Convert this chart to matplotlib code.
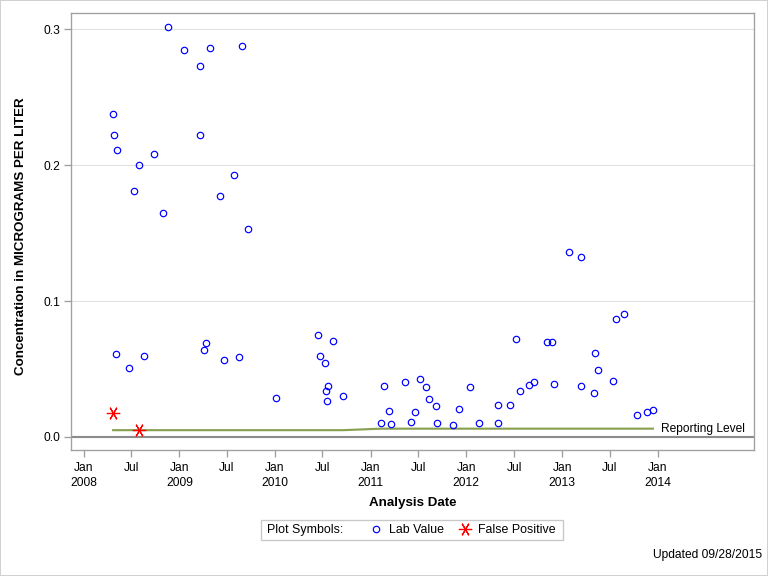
import matplotlib
matplotlib.use('Agg')
import matplotlib.pyplot as plt
from matplotlib.patches import Rectangle
import pandas as pd

plt.rcParams['font.family'] = ['Liberation Sans', 'DejaVu Sans']

# lab values (analysis date, concentration ug/L)
lab_dates = ['2008-04-23', '2008-04-27', '2008-05-06', '2008-05-03', '2008-06-24',
             '2008-07-11', '2008-08-01', '2008-08-18', '2008-09-25', '2008-10-30',
             '2008-11-20', '2009-01-20', '2009-03-20', '2009-03-22', '2009-04-06',
             '2009-04-14', '2009-04-29', '2009-06-06', '2009-06-21', '2009-07-30',
             '2009-08-18', '2009-08-26', '2009-09-21', '2010-01-03', '2010-06-15',
             '2010-06-23', '2010-07-12', '2010-07-16', '2010-07-20', '2010-07-23',
             '2010-08-11', '2010-09-19', '2011-02-08', '2011-02-22', '2011-03-13',
             '2011-03-21', '2011-05-13', '2011-06-05', '2011-06-20', '2011-07-09',
             '2011-07-30', '2011-08-13', '2011-09-06', '2011-09-12', '2011-11-12',
             '2011-12-05', '2012-01-16', '2012-02-19', '2012-05-02', '2012-05-02',
             '2012-06-17', '2012-07-09', '2012-07-22', '2012-08-28', '2012-09-16',
             '2012-11-05', '2012-11-24', '2012-12-01', '2013-01-25', '2013-03-15',
             '2013-03-15', '2013-05-04', '2013-05-08', '2013-05-19', '2013-07-13',
             '2013-07-27', '2013-08-24', '2013-10-15', '2013-11-22', '2013-12-13']
lab_values = [0.238, 0.222, 0.2115, 0.061, 0.0505,
              0.181, 0.200, 0.0593, 0.208, 0.1645,
              0.302, 0.285, 0.273, 0.222, 0.0638,
              0.069, 0.286, 0.177, 0.0564, 0.193,
              0.0586, 0.288, 0.1527, 0.0285, 0.0748,
              0.0593, 0.0542, 0.0336, 0.0263, 0.0373,
              0.0704, 0.030, 0.0101, 0.0374, 0.0189,
              0.0093, 0.0402, 0.0108, 0.0182, 0.0424,
              0.0365, 0.0277, 0.0228, 0.0101, 0.0086,
              0.0204, 0.0365, 0.0101, 0.0233, 0.0101,
              0.0233, 0.0718, 0.0336, 0.038, 0.0402,
              0.0696, 0.0696, 0.0388, 0.1358, 0.1321,
              0.0373, 0.0321, 0.0615, 0.049, 0.041,
              0.0865, 0.0902, 0.016, 0.0182, 0.0196]

fp_dates = ['2008-04-23', '2008-08-01']
fp_values = [0.0174, 0.0054]

rl_dates = ['2008-04-23', '2010-09-19', '2011-02-08', '2013-12-13']
rl_values = [0.005, 0.005, 0.0061, 0.0061]

tick_dates = ['2008-01-01', '2008-07-01', '2009-01-01', '2009-07-01', '2010-01-01',
              '2010-07-01', '2011-01-01', '2011-07-01', '2012-01-01', '2012-07-01',
              '2013-01-01', '2013-07-01', '2014-01-01']
tick_labels = ['Jan\n2008', 'Jul', 'Jan\n2009', 'Jul', 'Jan\n2010', 'Jul', 'Jan\n2011',
               'Jul', 'Jan\n2012', 'Jul', 'Jan\n2013', 'Jul', 'Jan\n2014']
y_ticks = [0.0, 0.1, 0.2, 0.3]

W, H = 768, 576
fig = plt.figure(figsize=(W/96, H/96), dpi=96)
ax = fig.add_axes([70.7/W, 1-450/H, (754-70.7)/W, (450-13.3)/H])

spine_col = '#a0a0a0'
for s in ax.spines.values():
    s.set_color(spine_col)
    s.set_linewidth(1.0)

for yv in y_ticks[1:]:
    ax.axhline(yv, color='#e2e2e2', lw=0.9, zorder=0)
ax.axhline(0.0, color='#8c8c8c', lw=1.6, zorder=1)

ax.plot(pd.to_datetime(rl_dates), rl_values, color='#88a050', lw=1.6, zorder=2)
ax.text(pd.Timestamp('2013-12-13') + pd.Timedelta(days=30), rl_values[-1],
        'Reporting Level', fontsize=9, va='center', ha='left')

star = (6, 2, 90)  # asterisk with a vertical spoke
ax.plot(pd.to_datetime(lab_dates), lab_values, ls='none', marker='o', ms=4.8,
        mfc='none', mec='blue', mew=0.9, zorder=3)
ax.plot(pd.to_datetime(fp_dates), fp_values, ls='none', marker=star, ms=10,
        mec='red', mew=0.9, zorder=3)

ax.set_xlim(pd.Timestamp('2007-11-13'), pd.Timestamp('2015-01-03'))
ax.set_ylim(-0.0096, 0.3118)
ax.set_xticks(pd.to_datetime(tick_dates))
ax.set_xticklabels(tick_labels)
ax.set_yticks(y_ticks)
ax.set_yticklabels(['%.1f' % v for v in y_ticks])
ax.tick_params(axis='both', colors=spine_col, labelcolor='black', labelsize=9,
               length=5, width=1, direction='out')
ax.tick_params(axis='y', pad=3)
ax.tick_params(axis='x', pad=4)
for lbl in ax.get_xticklabels():
    lbl.set_linespacing(1.35)

ax.set_xlabel('Analysis Date', fontsize=10, fontweight='bold', labelpad=6)
fig.text(21/W, 1-236/H, 'Concentration in MICROGRAMS PER LITER', rotation=90,
         fontsize=10, fontweight='bold', ha='center', va='center')

# legend box
fig.patches.append(Rectangle((260.7/W, 1-540.3/H), (563.3-260.7)/W, 20/H,
                             transform=fig.transFigure, fill=False,
                             edgecolor='#c8c8c8', lw=1))
fig.text(267/W, 1-530/H, 'Plot Symbols:', fontsize=9.3, va='center', ha='left')
h1, = ax.plot([], [], ls='none', marker='o', ms=4.8, mfc='none', mec='blue', mew=0.9)
h2, = ax.plot([], [], ls='none', marker=star, ms=10, mec='red', mew=0.9)
fig.legend([h1, h2], ['Lab Value', 'False Positive'], loc='center left',
           bbox_to_anchor=(370/W, 1-530/H), ncol=2, frameon=False, fontsize=9.3,
           handlelength=1.0, handletextpad=0.55, columnspacing=1.2,
           borderpad=0, borderaxespad=0)

fig.text(762/W, 1-555/H, 'Updated 09/28/2015', fontsize=9, ha='right', va='center')

# outer border
fig.patches.append(Rectangle((0, 0), 1, 1, transform=fig.transFigure, fill=False,
                             edgecolor='#d0d0d0', lw=1.5))

fig.savefig('out.png', dpi=96)
